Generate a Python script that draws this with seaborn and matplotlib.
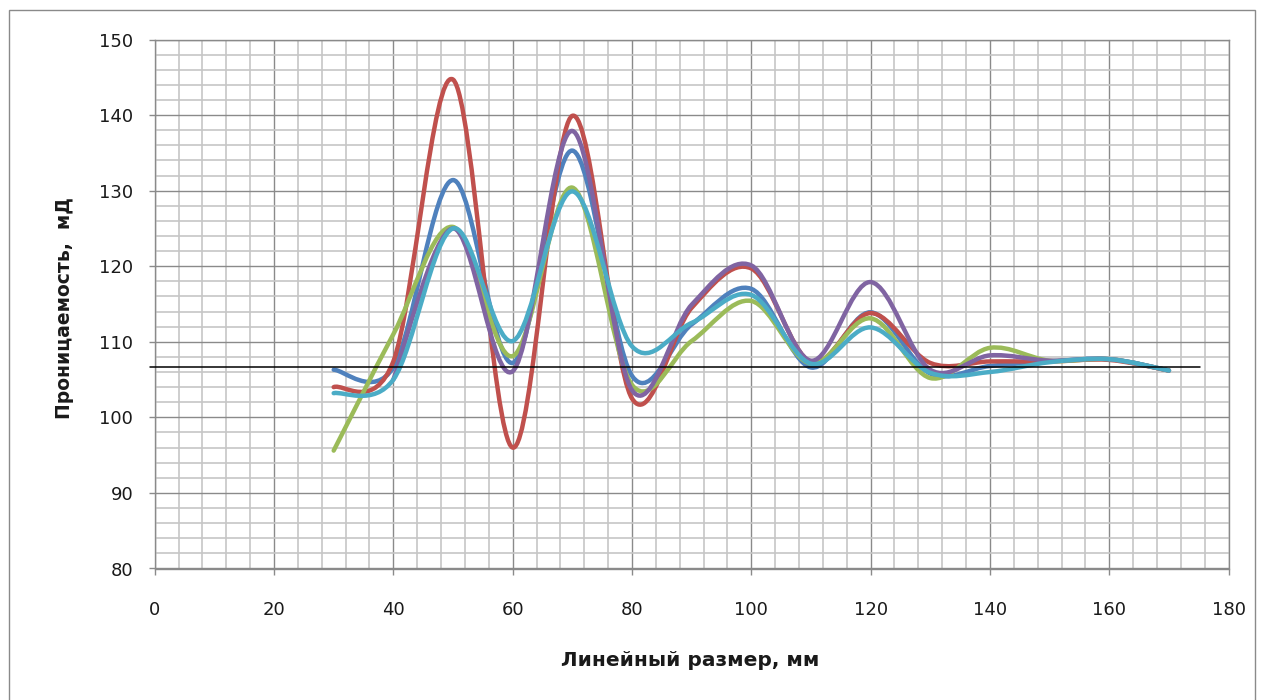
import numpy as np
import matplotlib
matplotlib.use("Agg")
import matplotlib.pyplot as plt
import seaborn as sns
from matplotlib.path import Path
from matplotlib.patches import PathPatch, Rectangle
from matplotlib.ticker import MultipleLocator

# Linear size along the sample, mm
size_mm = [30, 40, 50, 60, 70, 80, 90, 100, 110, 120, 130, 140, 150, 160, 170]
size_mm_short = [40, 50, 60, 70, 80, 90, 100, 110, 120, 130, 140, 150, 160, 170]

# Permeability profiles, mD
perm_1 = [106.3, 106.6, 131.4, 107.2, 135.3, 105.5, 112.3, 117.0, 106.6, 113.9, 105.8, 106.8, 107.4, 107.7, 106.2]
perm_2 = [104.0, 107.4, 144.7, 96.0, 139.9, 102.5, 114.5, 119.7, 107.3, 113.8, 107.2, 107.4, 107.4, 107.6, 106.2]
perm_3 = [95.6, 111.0, 125.2, 108.1, 130.4, 104.3, 110.1, 115.4, 107.1, 113.1, 105.2, 109.2, 107.5, 107.7, 106.2]
perm_4 = [105.0, 125.0, 106.1, 137.9, 103.6, 114.9, 120.1, 107.5, 117.9, 106.3, 108.2, 107.5, 107.7, 106.2]
perm_5 = [103.2, 105.0, 125.0, 110.1, 129.9, 109.4, 112.5, 116.2, 107.1, 111.9, 105.9, 106.0, 107.3, 107.7, 106.2]

# Average permeability level and the span of its reference line
mean_level = 106.6
mean_span = [-0.8, 175.2]

x_ticks = [0, 20, 40, 60, 80, 100, 120, 140, 160, 180]
y_ticks = [80, 90, 100, 110, 120, 130, 140, 150]

x_label = "Линейный размер, мм"
y_label = "Проницаемость,  мД"

sns.set_theme(style="white")
plt.rcParams["font.family"] = ["DejaVu Sans"]
palette = sns.color_palette(["#4F81BD", "#C0504D", "#9BBB59", "#8064A2", "#4BACC6"])

W, H = 1262, 700
fig = plt.figure(figsize=(W / 100, H / 100), dpi=100)
fig.patch.set_facecolor("white")

# plot area in pixels
px_left, px_right, px_top, px_bottom = 154.7, 1228.6, 39.5, 568.5
ax = fig.add_axes([px_left / W, 1 - px_bottom / H,
                   (px_right - px_left) / W, (px_bottom - px_top) / H])
ax.set_facecolor("white")


def smooth_path(xs, ys):
    """Cubic Bezier path through the points (Catmull-Rom tangents, as in spreadsheet smoothed lines)."""
    pts = np.column_stack([xs, ys]).astype(float)
    ext = np.vstack([pts[0], pts, pts[-1]])
    verts = [pts[0]]
    codes = [Path.MOVETO]
    for i in range(len(pts) - 1):
        p0, p1, p2, p3 = ext[i], ext[i + 1], ext[i + 2], ext[i + 3]
        c1 = p1 + (p2 - p0) / 6.0
        c2 = p2 - (p3 - p1) / 6.0
        verts += [c1, c2, p2]
        codes += [Path.CURVE4] * 3
    return Path(verts, codes)


series_list = [(size_mm, perm_1), (size_mm, perm_2), (size_mm, perm_3),
               (size_mm_short, perm_4), (size_mm, perm_5)]
for (xs, ys), color in zip(series_list, palette):
    patch = PathPatch(smooth_path(xs, ys), facecolor="none", edgecolor=color,
                      lw=3.2, capstyle="round", joinstyle="round", zorder=3)
    ax.add_patch(patch)

ax.plot(mean_span, [mean_level, mean_level], color="black", lw=1.1, zorder=4, clip_on=False)

ax.set_xlim(0, 180)
ax.set_ylim(80, 150)
ax.set_xticks(x_ticks)
ax.set_yticks(y_ticks)
ax.xaxis.set_minor_locator(MultipleLocator(4))
ax.yaxis.set_minor_locator(MultipleLocator(2))

ax.grid(which="minor", color="#c6c6c6", lw=1.2, zorder=0)
ax.grid(which="major", color="#8a8a8a", lw=1.0, zorder=1)
ax.set_axisbelow(True)

for side in ["left", "bottom", "top", "right"]:
    ax.spines[side].set_color("#8a8a8a")
    ax.spines[side].set_linewidth(1.0)
    ax.spines[side].set_visible(True)

ax.tick_params(which="major", direction="out", length=4.5, width=1.0, color="#8a8a8a",
               labelsize=13, labelcolor="#1a1a1a", bottom=True, left=True)
ax.tick_params(axis="x", which="major", pad=19)
ax.tick_params(axis="y", which="major", pad=11)
ax.tick_params(which="minor", length=0)

ax.set_xlabel(x_label, fontsize=14.5, fontweight="bold", color="#1a1a1a")
ax.set_ylabel(y_label, fontsize=13.5, fontweight="bold", color="#1a1a1a")
ax.xaxis.label.set_va("center")
ax.yaxis.label.set_va("center")
ax.xaxis.set_label_coords((690 - px_left) / (px_right - px_left), -(661 - px_bottom) / (px_bottom - px_top))
ax.yaxis.set_label_coords(-(px_left - 65) / (px_right - px_left), (px_bottom - 308) / (px_bottom - px_top))

# chart area frame
fig.add_artist(Rectangle((9 / W, -0.05), (1255 - 9) / W, 1.05 - 10 / H,
                         transform=fig.transFigure, fill=False, edgecolor="#8a8a8a", lw=1.0))

fig.savefig("out.png", dpi=100)
